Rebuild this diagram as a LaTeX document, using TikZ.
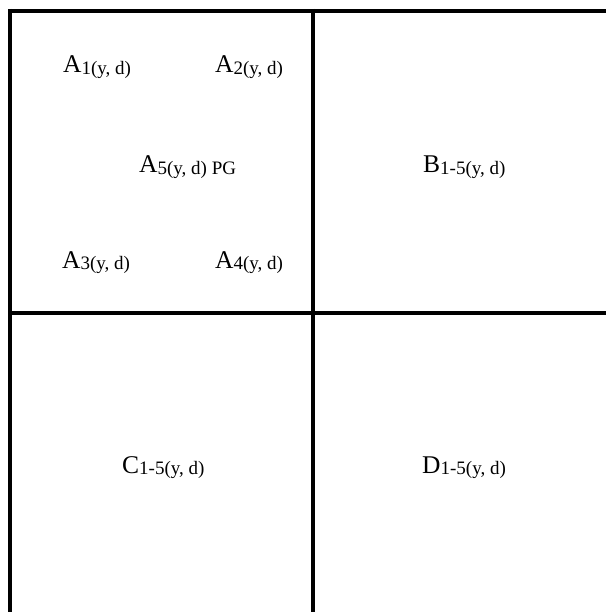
\documentclass[tikz,border=0pt]{standalone}
\usepackage{fontspec}
\setmainfont{Liberation Serif}
\newcommand{\bigsz}{\fontsize{25.5}{25.5}\selectfont}
\newcommand{\subsz}[1]{\raisebox{-1.5pt}{\fontsize{19}{19}\selectfont #1}}
\begin{document}
\begin{tikzpicture}[x=1pt,y=1pt,
  gridline/.style={line width=4pt, black},
  lbl/.style={anchor=base west, inner sep=0pt, font=\bigsz}]
\useasboundingbox (0,0) rectangle (606,-612);
% grid coordinates
\coordinate (tl) at (8,-11);
\coordinate (tr) at (606,-11);
\coordinate (lt) at (10,-9);
\coordinate (lb) at (10,-612);
\coordinate (mt) at (313.3,-9);
\coordinate (mb) at (313.3,-612);
\coordinate (hl) at (8,-313.3);
\coordinate (hr) at (606,-313.3);
\draw[gridline] (tl) -- (tr);
\draw[gridline] (lt) -- (lb);
\draw[gridline] (mt) -- (mb);
\draw[gridline] (hl) -- (hr);
% labels
\node[lbl] (a1) at (63,-73) {A\subsz{1(y, d)}};
\node[lbl] (a2) at (215,-73) {A\subsz{2(y, d)}};
\node[lbl] (a5) at (139,-173) {A\subsz{5(y, d) PG}};
\node[lbl] (a3) at (62,-268) {A\subsz{3(y, d)}};
\node[lbl] (a4) at (215,-268) {A\subsz{4(y, d)}};
\node[lbl] (b) at (423,-173) {B\subsz{1-5(y, d)}};
\node[lbl] (c) at (122,-473) {C\subsz{1-5(y, d)}};
\node[lbl] (d) at (422,-473) {D\subsz{1-5(y, d)}};
\end{tikzpicture}
\end{document}
